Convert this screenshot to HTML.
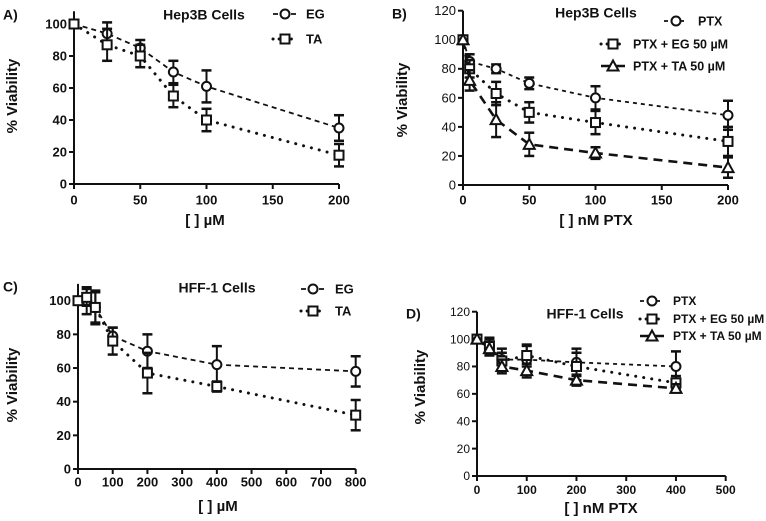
<!DOCTYPE html>
<html><head><meta charset="utf-8"><style>
body{margin:0;background:#fff}
svg{display:block;font-family:"Liberation Sans",Arial,sans-serif;font-weight:bold}
</style></head><body>
<svg id="c" width="766" height="521" viewBox="0 0 766 521"></svg>
<script>
// Panel A data
const aX=[0,25,50,75,100,200];
const aEG=[100,94,85,70,61,35];
const aEGerr=[0,7,5,7,10,8];
const aTA=[100,87,80,55,40,18];
const aTAerr=[0,10,7,7,7,7];
const aXTicks=[0,50,100,150,200];
const aYTicks=[0,20,40,60,80,100];
// Panel B data
const bX=[0,5,25,50,100,200];
const bPTX=[100,85,80,70,60,48];
const bPTXerr=[0,5,3,4,8,10];
const bEG=[100,80,63,50,43,30];
const bEGerr=[0,6,8,7,8,10];
const bTA=[100,72,45,28,22,12];
const bTAerr=[0,7,12,8,4,7];
const bXTicks=[0,50,100,150,200];
const bYTicks=[0,20,40,60,80,100,120];
// Panel C data
const cX=[0,25,50,100,200,400,800];
const cEG=[100,100,96,79,70,62,58];
const cEGerr=[0,8,9,5,10,11,9];
const cTA=[100,102,96,76,57,49,32];
const cTAerr=[0,5,10,8,12,3,9];
const cXTicks=[0,100,200,300,400,500,600,700,800];
const cYTicks=[0,20,40,60,80,100];
// Panel D data
const dX=[0,25,50,100,200,400];
const dPTX=[100,95,85,85,83,80];
const dPTXerr=[0,5,8,10,10,11];
const dEG=[100,95,84,88,80,68];
const dEGerr=[0,6,6,8,10,5];
const dTA=[100,93,80,77,70,64];
const dTAerr=[0,5,5,5,4,3];
const dXTicks=[0,100,200,300,400,500];
const dYTicks=[0,20,40,60,80,100,120];

const svg=document.getElementById('c');
const NS='http://www.w3.org/2000/svg';
function mk(tag,at,parent){const e=document.createElementNS(NS,tag);for(const k in at)e.setAttribute(k,at[k]);(parent||svg).appendChild(e);return e;}
function txt(s,x,y,size,anchor,parent,extra){const t=mk('text',Object.assign({x:x,y:y,'font-size':size,'text-anchor':anchor||'middle','dominant-baseline':'middle',fill:'#111'},extra||{}),parent);t.textContent=s;return t;}

const DASH={dash:'5,4',dot:'0.1,8',short:'4,4',long:'9,6'};
function marker(shape,x,y,g){
  if(shape==='circle')return mk('circle',{cx:x,cy:y,r:4.5,fill:'#fff',stroke:'#111','stroke-width':2},g);
  if(shape==='square')return mk('rect',{x:x-4.5,y:y-4.5,width:9,height:9,fill:'#fff',stroke:'#111','stroke-width':2},g);
  return mk('polygon',{points:`${x},${y-5.5} ${x-5.5},${y+4.5} ${x+5.5},${y+4.5}`,fill:'#fff',stroke:'#111','stroke-width':2},g);
}

function panel(p){
  const g=mk('g',{});
  
  
  const sx=v=>p.x0+(v-p.xmin)/(p.xmax-p.xmin)*(p.x1-p.x0);
  const sy=v=>p.y0-(v)/(p.ymax)*(p.y0-p.y1);
  const ya=mk('line',{x1:p.x0,y1:p.y0,x2:p.x0,y2:sy(p.yTop),stroke:'#111','stroke-width':2},g);
  
  
  const xa=mk('line',{x1:p.x0,y1:p.y0,x2:sx(p.xTicks[p.xTicks.length-1]),y2:p.y0,stroke:'#111','stroke-width':2},g);
  
  
  p.yTicks.forEach(v=>{
    mk('line',{x1:p.x0-5,y1:sy(v),x2:p.x0,y2:sy(v),stroke:'#111','stroke-width':2},g);
    const t=txt(String(v),p.x0-7,sy(v)+1,p.fs,'end',g,p.yBold?{}:{'font-weight':'normal'});
    
    
  });
  p.xTicks.forEach(v=>{
    mk('line',{x1:sx(v),y1:p.y0,x2:sx(v),y2:p.y0+5,stroke:'#111','stroke-width':2},g);
    const t=txt(String(v),sx(v),p.xLabY,p.fs,'middle',g);
    
    
  });
  const xt=txt(p.xTitle,p.xTitleX,p.xTitleY,15,'middle',g);
  
  
  const yt=txt('% Viability',0,0,15,'middle',g,{transform:`translate(${p.yTitleX},${p.yTitleY}) rotate(-90)`});
  
  
  const tt=txt(p.title,p.titleX,p.titleY,14,'middle',g);
  
  
  const lt=txt(p.letter,p.letX,p.letY,14,'start',g);
  
  
  p.series.forEach(s=>{
    const sg=mk('g',{},g);
    
    
    const pts=p.xs.map((x,i)=>sx(x)+','+sy(s.v[i])).join(' ');
    mk('polyline',{points:pts,fill:'none',stroke:'#111','stroke-width':s.w,'stroke-dasharray':DASH[s.style],'stroke-linecap':s.style==='dot'?'round':'butt'},sg);
    p.xs.forEach((x,i)=>{
      const e=s.e[i];
      if(e>0){
        const X=sx(x),top=sy(s.v[i]+e),bot=sy(s.v[i]-e);
        mk('line',{x1:X,y1:top,x2:X,y2:bot,stroke:'#111','stroke-width':2},sg);
        mk('line',{x1:X-5,y1:top,x2:X+5,y2:top,stroke:'#111','stroke-width':2.5},sg);
        mk('line',{x1:X-5,y1:bot,x2:X+5,y2:bot,stroke:'#111','stroke-width':2.5},sg);
      }
      const m=marker(s.shape,sx(x),sy(s.v[i]),sg);
      
      
    });
    const lg=mk('g',{},g);
    
    
    mk('line',{x1:s.lx-12,y1:s.ly,x2:s.lx+12,y2:s.ly,stroke:'#111','stroke-width':s.w,'stroke-dasharray':s.style==='dot'?'0.1,6':DASH[s.style],'stroke-linecap':s.style==='dot'?'round':'butt'},lg);
    marker(s.shape,s.lx,s.ly,lg);
    txt(s.label,s.tx,s.ly+1,p.lfs||13,'start',lg);
  });
}

panel({name:'panel-a',letter:'A)',letX:3,letY:16,title:'Hep3B Cells',titleX:204,titleY:16,
  x0:74,x1:339,xmin:0,xmax:200,y0:184,y1:24,ymax:100,yTop:108,fs:13,yBold:true,
  xTicks:aXTicks,yTicks:aYTicks,xLabY:201,xTitle:'[ ] µM',xTitleX:205,xTitleY:221,yTitleX:13,yTitleY:96,xs:aX,
  series:[{key:'eg',label:'EG',v:aEG,e:aEGerr,shape:'circle',style:'dash',w:1.8,lx:285,ly:14,tx:306},
          {key:'ta',label:'TA',v:aTA,e:aTAerr,shape:'square',style:'dot',w:3,lx:285,ly:39,tx:306}]});
panel({name:'panel-b',letter:'B)',letX:392,letY:15,title:'Hep3B Cells',titleX:596,titleY:14,
  x0:463,x1:728,xmin:0,xmax:200,y0:185,y1:10.7,ymax:120,yTop:120,fs:13,yBold:false,lfs:12.5,
  xTicks:bXTicks,yTicks:bYTicks,xLabY:201,xTitle:'[ ] nM PTX',xTitleX:596,xTitleY:221,yTitleX:403,yTitleY:100,xs:bX,
  series:[{key:'ptx',label:'PTX',v:bPTX,e:bPTXerr,shape:'circle',style:'short',w:1.8,lx:676,ly:21,tx:698},
          {key:'ptx-eg',label:'PTX + EG 50 µM',v:bEG,e:bEGerr,shape:'square',style:'dot',w:3,lx:613,ly:44,tx:633},
          {key:'ptx-ta',label:'PTX + TA 50 µM',v:bTA,e:bTAerr,shape:'triangle',style:'long',w:2.6,lx:613,ly:66,tx:633}]});
panel({name:'panel-c',letter:'C)',letX:3,letY:288,title:'HFF-1 Cells',titleX:217,titleY:289,
  x0:78,x1:355.7,xmin:0,xmax:800,y0:469,y1:300.7,ymax:100,yTop:110,fs:13,yBold:true,
  xTicks:cXTicks,yTicks:cYTicks,xLabY:483,xTitle:'[ ] µM',xTitleX:218,xTitleY:507,yTitleX:13,yTitleY:385,xs:cX,
  series:[{key:'eg',label:'EG',v:cEG,e:cEGerr,shape:'circle',style:'dash',w:1.8,lx:313,ly:289,tx:335},
          {key:'ta',label:'TA',v:cTA,e:cTAerr,shape:'square',style:'dot',w:3,lx:313,ly:311,tx:335}]});
panel({name:'panel-d',letter:'D)',letX:406,letY:315,title:'HFF-1 Cells',titleX:585,titleY:315,
  x0:477,x1:725.7,xmin:0,xmax:500,y0:476,y1:311.7,ymax:120,yTop:120,fs:12,yBold:false,lfs:12,
  xTicks:dXTicks,yTicks:dYTicks,xLabY:491,xTitle:'[ ] nM PTX',xTitleX:601,xTitleY:509,yTitleX:421,yTitleY:387,xs:dX,
  series:[{key:'ptx',label:'PTX',v:dPTX,e:dPTXerr,shape:'circle',style:'short',w:1.8,lx:652,ly:301,tx:673},
          {key:'ptx-eg',label:'PTX + EG 50 µM',v:dEG,e:dEGerr,shape:'square',style:'dot',w:3,lx:652,ly:319,tx:673},
          {key:'ptx-ta',label:'PTX + TA 50 µM',v:dTA,e:dTAerr,shape:'triangle',style:'long',w:2.6,lx:652,ly:336,tx:673}]});
</script>
</body></html>
